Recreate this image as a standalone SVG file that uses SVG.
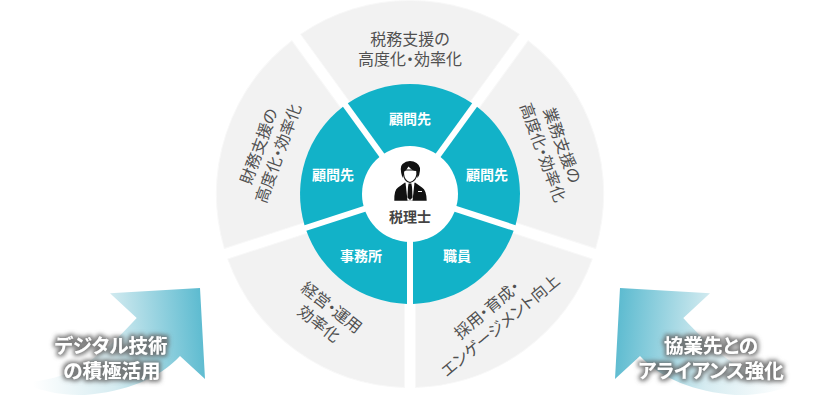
<svg xmlns="http://www.w3.org/2000/svg" xmlns:xlink="http://www.w3.org/1999/xlink" width="821" height="403" viewBox="0 0 821 403">
<style>
text{font-family:"Noto Sans CJK JP","Noto Sans",sans-serif;text-anchor:middle}
.g{fill:#f2f2f2;stroke:#f8f8f8;stroke-width:1}
.t{fill:#12b2c8}
.lb{font-size:16px;fill:#505050;font-feature-settings:"palt"}
.w{font-size:14px;font-weight:700;fill:#fff}
.c{font-size:14px;font-weight:700;fill:#444}
.a{font-size:19.5px;font-weight:700;fill:#fff;filter:url(#glow);font-feature-settings:"palt"}
</style>
<defs>
<path id="gw" class="g" d="M410 184.64L300.7 34.3A193.5 193.5 0 0 1 519.3 34.3Z"/>
<path id="tw" class="t" d="M410 188.9L347.8 103.3A110 110 0 0 1 472.2 103.3Z"/>
<linearGradient id="ag" gradientUnits="userSpaceOnUse" x1="30" y1="350" x2="210" y2="335">
<stop offset="0" stop-color="#fff"/><stop offset=".45" stop-color="#d6ecf1"/><stop offset="1" stop-color="#55b8ce"/>
</linearGradient>
<path id="arrow" fill="url(#ag)" d="M110 293.3L200 288L205 379L180 356C160 378 125 392 85 395C60 396 38 390 20 382C70 382 100 358 136.7 318Z"/>
<filter id="glow" x="-15%" y="-25%" width="130%" height="150%">
<feMorphology in="SourceAlpha" operator="dilate" radius="1.5" result="d"/>
<feGaussianBlur in="d" stdDeviation="2" result="b"/>
<feFlood flood-color="#666" flood-opacity=".85"/><feComposite in2="b" operator="in" result="s"/>
<feMerge><feMergeNode in="s"/><feMergeNode in="SourceGraphic"/></feMerge>
</filter>
</defs>
<g id="connectors">
<use xlink:href="#arrow" href="#arrow"/>
<use xlink:href="#arrow" href="#arrow" transform="translate(820 0) scale(-1 1)"/>
</g>
<g id="outer-top"><use href="#gw"/><text class="lb"><tspan x="410" y="45">税務支援の</tspan><tspan x="410" y="65">高度化・効率化</tspan></text></g>
<g id="outer-right"><use href="#gw" transform="rotate(72 410 194)"/><text class="lb" transform="translate(552 149) rotate(70)"><tspan x="0" y="-5">業務支援の</tspan><tspan x="0" y="15.5">高度化・効率化</tspan></text></g>
<g id="outer-lower-right"><use href="#gw" transform="rotate(144 410 194)"/><text class="lb" transform="translate(494 318) rotate(-40)"><tspan x="0" y="-5">採用・育成・</tspan><tspan x="0" y="15.5">エンゲージメント向上</tspan></text></g>
<g id="outer-lower-left"><use href="#gw" transform="rotate(216 410 194)"/><text class="lb" transform="translate(325 316) rotate(38)"><tspan x="0" y="-5">経営・運用</tspan><tspan x="0" y="15.5">効率化</tspan></text></g>
<g id="outer-left"><use href="#gw" transform="rotate(288 410 194)"/><text class="lb" transform="translate(269 150) rotate(-70)"><tspan x="0" y="-5">財務支援の</tspan><tspan x="0" y="15.5">高度化・効率化</tspan></text></g>
<g id="inner-top"><use href="#tw"/><text class="w" x="410" y="124">顧問先</text></g>
<g id="inner-right"><use href="#tw" transform="rotate(72 410 194)"/><text class="w" x="487" y="180">顧問先</text></g>
<g id="inner-lower-right"><use href="#tw" transform="rotate(144 410 194)"/><text class="w" x="457" y="261">職員</text></g>
<g id="inner-lower-left"><use href="#tw" transform="rotate(216 410 194)"/><text class="w" x="361" y="261">事務所</text></g>
<g id="inner-left"><use href="#tw" transform="rotate(288 410 194)"/><text class="w" x="333" y="180">顧問先</text></g>
<g id="center">
<circle cx="410" cy="194" r="48" fill="#fff"/>
<path d="M394.3 200.7Q394 190 398 187.5L405 182.5L410 185L415 182.5L422 187.5Q426.5 190 426.7 200.7Z" fill="#111"/>
<path d="M405.5 182.5L414.5 182.5L412.5 200.7L407.5 200.7Z" fill="#fff"/>
<path d="M408.6 183.5H411.4L412 187L412.6 197.5L410 200L407.4 197.5L408 187Z" fill="#111"/>
<path d="M418 191.5H422" stroke="#fff" stroke-width="1"/>
<path d="M403.5 170V174Q404 181 410 182.5Q416 181 417 174V170Z" fill="#fff" stroke="#111" stroke-width="1.2"/>
<path d="M402.5 178Q399 167 402.5 164Q407 159.8 413.5 161.5Q420.5 164 420 170.5Q419.7 175 417.5 178L416.5 171Q412.5 171 408.5 166.5Q406 171 403.8 172Z" fill="#111"/>
<text class="c" x="410" y="222">税理士</text>
</g>
<g id="label-left"><text class="a"><tspan x="111" y="353">デジタル技術</tspan><tspan x="112" y="378">の積極活用</tspan></text></g>
<g id="label-right"><text class="a"><tspan x="711" y="353">協業先との</tspan><tspan x="711" y="378">アライアンス強化</tspan></text></g>
</svg>
